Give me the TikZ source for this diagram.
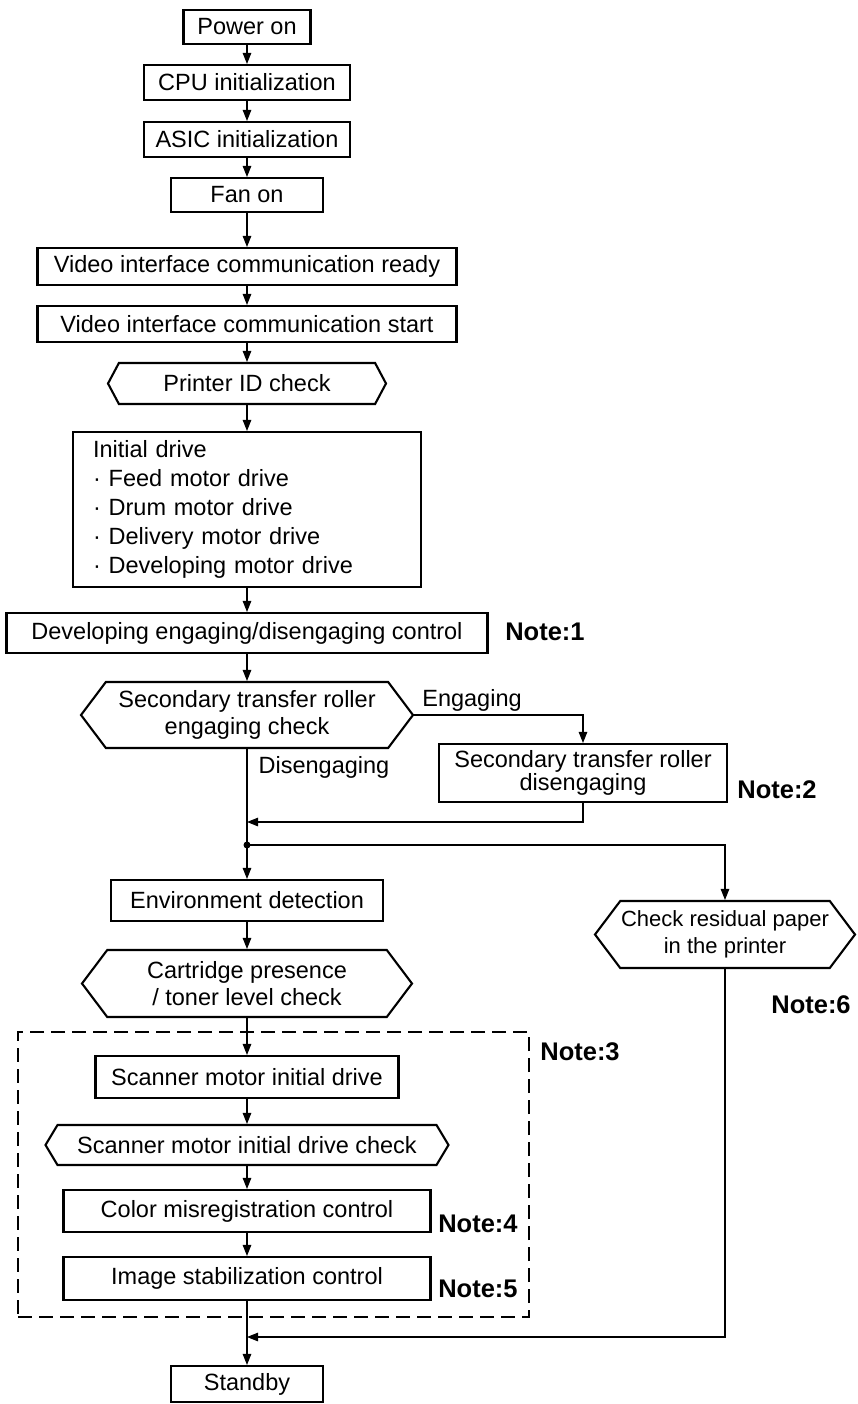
\documentclass[tikz,border=0pt]{standalone}
\usepackage{fontspec}
\setmainfont{Liberation Sans}
\usetikzlibrary{arrows.meta,positioning,shapes.symbols}

\begin{document}
\begin{tikzpicture}[x=1pt,y=-1pt,
    every node/.style={font=\fontsize{23.5}{27}\selectfont,inner sep=0pt},
    box/.style 2 args={draw,line width=2.1pt,minimum width=#1,minimum height=#2,align=center},
    chk/.style n args={3}{draw,line width=2.1pt,signal,signal to=west and east,
      signal pointer angle=#3,minimum width=#1,minimum height=#2,align=center},
    grpbox/.style={draw,line width=2.1pt,dash pattern=on 14pt off 7pt},
    note/.style={font=\fontsize{25.5}{30}\selectfont\bfseries},
    arr/.style={-{Triangle[length=11pt,width=8.5pt]},line width=1.1pt},
    link/.style={line width=1.1pt}
  ]
    \useasboundingbox (0,0) rectangle (857,1404);

    % main column
    \node[box={127pt}{34pt}] (pow) at (247,27) {Power on};
    \node[box={206pt}{35pt}] (cpu) at (247,82.5) {CPU initialization};
    \node[box={206pt}{35pt}] (asic) at (247,139.5) {ASIC initialization};
    \node[box={152pt}{34pt}] (fan) at (247,195) {Fan on};
    \node[box={419pt}{37pt}] (vrdy) at (247,266.5) {Video interface communication ready};
    \node[box={419pt}{36pt}] (vst) at (247,324) {Video interface communication start};
    \node[chk={278pt}{41pt}{124}] (pid) at (247,383.5) {Printer ID check};
    \node[box={348pt}{155pt},align=left,text width=308pt,
      font=\fontsize{23.5}{29}\selectfont] (init) at (247,509.5)
      {Initial drive\\· Feed motor drive\\· Drum motor drive\\· Delivery motor drive\\· Developing motor drive};
    \node[box={481pt}{40pt}] (dev) at (247,633) {Developing engaging/disengaging control};
    \node[chk={332pt}{66pt}{106}] (sec) at (247,715) {Secondary transfer roller\\engaging check};
    \node[box={288pt}{58pt},font=\fontsize{23.5}{23}\selectfont] (sdis) at (583,773)
      {Secondary transfer roller\\disengaging};
    \node[chk={260pt}{67pt}{106},font=\fontsize{22}{27}\selectfont] (resid) at (725,934.5)
      {Check residual paper\\in the printer};
    \node[box={272pt}{41pt}] (env) at (247,900.5) {Environment detection};
    \node[chk={330pt}{67pt}{106}] (cart) at (247,983.5) {Cartridge presence\\/ toner level check};

    % adjustment block
    \node[grpbox,minimum width=511pt,minimum height=285pt] (grp) at (273.5,1174.5) {};
    \node[box={303pt}{42pt}] (scan) at (247,1077) {Scanner motor initial drive};
    \node[chk={403pt}{40pt}{118}] (schk) at (247,1145) {Scanner motor initial drive check};
    \node[box={367pt}{42pt}] (cmis) at (247,1211) {Color misregistration control};
    \node[box={367pt}{43pt}] (istab) at (247,1278.5) {Image stabilization control};
    \node[box={152pt}{36pt}] (stby) at (247,1384) {Standby};

    % notes and branch labels
    \node[note] (n1) at (545,632) {Note:1};
    \node[note] (n2) at (777,790) {Note:2};
    \node[note] (n3) at (580,1052) {Note:3};
    \node[note] (n4) at (478,1224) {Note:4};
    \node[note] (n5) at (478,1289) {Note:5};
    \node[note] (n6) at (811,1005) {Note:6};
    \node (eng) at (472,700) {Engaging};
    \node (diseng) at (324,767) {Disengaging};

    \coordinate (j1) at (247,822);
    \coordinate (dot) at (247,845);
    \coordinate (j2) at (247,1337);

    \foreach \a/\b in {pow/cpu,cpu/asic,asic/fan,fan/vrdy,vrdy/vst,vst/pid,pid/init,init/dev,
        dev/sec,env/cart,cart/scan,scan/schk,schk/cmis,cmis/istab,istab/stby}
      \draw[arr] (\a.south) -- (\b.north);
    \draw[link] (sec.south) -- (dot);
    \draw[arr] (dot) -- (env.north);
    \fill (dot) circle (3.5pt);
    \draw[arr] (sec.east) -| (sdis.north);
    \draw[arr] (sdis.south) |- (j1);
    \draw[arr] (dot) -| (resid.north);
    \draw[arr] (resid.south) |- (j2);
  \end{tikzpicture}
\end{document}
